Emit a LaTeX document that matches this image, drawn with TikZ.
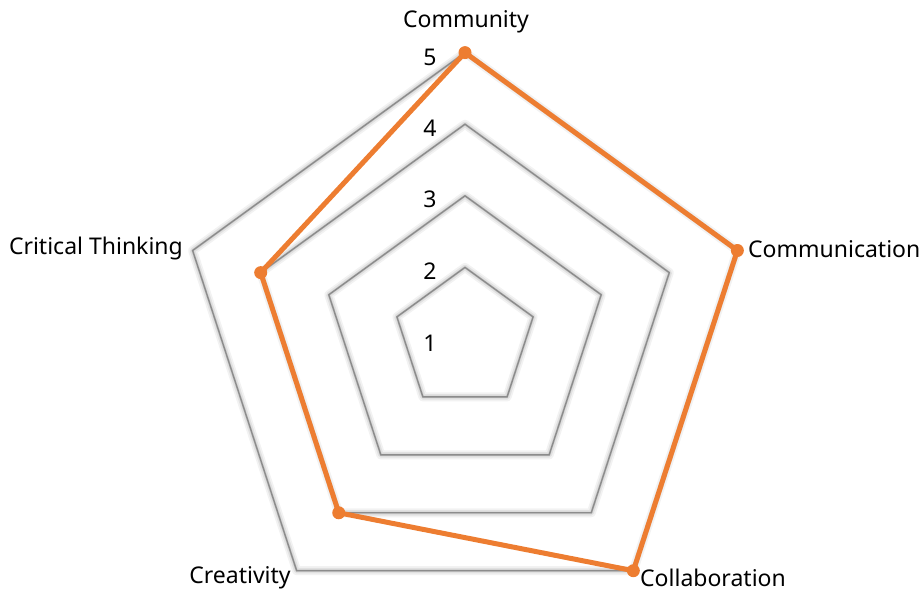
\documentclass[tikz,border=0pt]{standalone}
\usepackage{fontspec}
\setmainfont{Noto Sans}
\definecolor{orangeS}{HTML}{ED7D31}
\definecolor{gridgray}{HTML}{8C8C8C}
\begin{document}
\begin{tikzpicture}[x=1pt,y=-1pt,
  gridline/.style={draw=gridgray,line width=1.4pt,line join=miter},
  shadeA/.style={draw=black,opacity=0.05,line width=9pt,line join=round},
  shadeB/.style={draw=black,opacity=0.07,line width=5.5pt,line join=round},
  shadeC/.style={draw=black,opacity=0.09,line width=2.5pt,line join=round},
  series/.style={draw=orangeS,line width=5pt,line join=miter},
  dot/.style={circle,fill=orangeS,inner sep=0pt,minimum size=13pt},
  axislabel/.style={font=\fontsize{23}{27}\selectfont,inner sep=0pt},
  numlabel/.style={font=\fontsize{23}{28}\selectfont,inner sep=0pt}]
\useasboundingbox (0,0) rectangle (924,592);
\def\cx{465}\def\cy{339}\def\st{71.6}
% grid vertices
\foreach \k in {2,3,4,5}{
  \foreach \i in {0,...,4}{
    \pgfmathsetmacro{\px}{\cx+(\k-1)*\st*sin(72*\i)}
    \pgfmathsetmacro{\py}{\cy-(\k-1)*\st*cos(72*\i)}
    \coordinate (g\k-\i) at (\px,\py);
  }
}
% shadows
\foreach \k in {2,3,4,5}{
  \begin{scope}[shift={(2.5,5)}]
    \draw[shadeA] (g\k-0) -- (g\k-1) -- (g\k-2) -- (g\k-3) -- (g\k-4) -- cycle;
    \draw[shadeB] (g\k-0) -- (g\k-1) -- (g\k-2) -- (g\k-3) -- (g\k-4) -- cycle;
    \draw[shadeC] (g\k-0) -- (g\k-1) -- (g\k-2) -- (g\k-3) -- (g\k-4) -- cycle;
  \end{scope}
}
% grid lines
\foreach \k in {2,3,4,5}{
  \draw[gridline] (g\k-0) -- (g\k-1) -- (g\k-2) -- (g\k-3) -- (g\k-4) -- cycle;
}
% scale numbers
\node[numlabel] (n5) at (430,57) {5};
\node[numlabel] (n4) at (430,128) {4};
\node[numlabel] (n3) at (430,199) {3};
\node[numlabel] (n2) at (430,271) {2};
\node[numlabel] (n1) at (430,343) {1};
% series
\coordinate (s0) at (g5-0);
\coordinate (s1) at (g5-1);
\coordinate (s2) at (g5-2);
\coordinate (s3) at (g4-3);
\coordinate (s4) at (g4-4);
\draw[series] (s0) -- (s1) -- (s2) -- (s3) -- (s4) -- cycle;
\foreach \i in {0,...,4}{ \node[dot] (d\i) at (s\i) {}; }
% axis labels
\node[axislabel] (lComm) at (466,22) {Community};
\node[axislabel,anchor=west] (lCommun) at (748,249) {Communication};
\node[axislabel,anchor=west] (lCollab) at (640,578) {Collaboration};
\node[axislabel] (lCreat) at (240,578) {Creativity};
\node[axislabel,anchor=east] (lCrit) at (183,249) {Critical Thinking};
\end{tikzpicture}
\end{document}
